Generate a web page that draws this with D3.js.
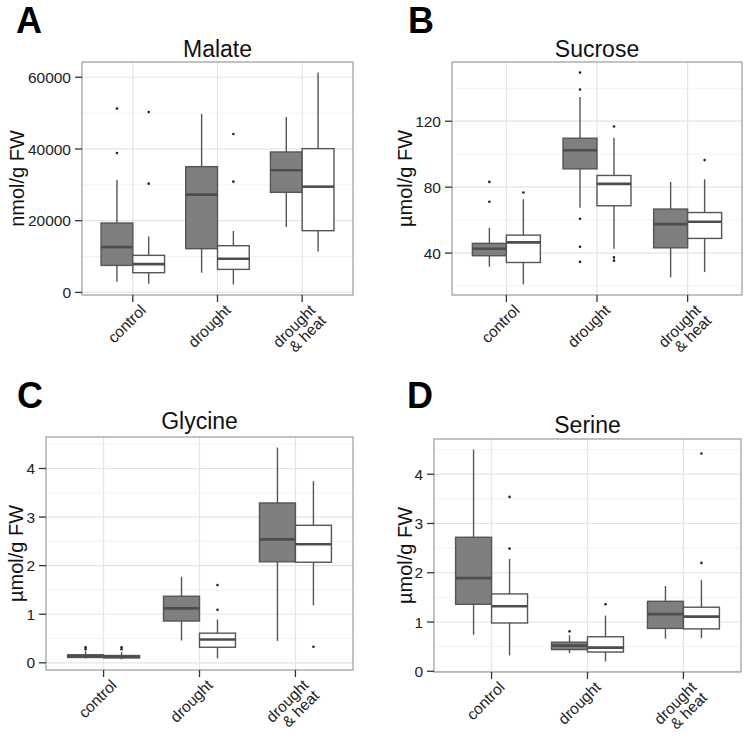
<!DOCTYPE html>
<html>
<head>
<meta charset="utf-8">
<script src="https://cdn.jsdelivr.net/npm/d3@7"></script>
<style>
  body { margin: 0; background: #fff; }
  text { font-family: "Liberation Sans", Arial, Helvetica, sans-serif; }
</style>
</head>
<body>
<div id="wrapper"></div>
<script>
// groups on the x axis
const groups = ["control", "drought", "drought & heat"];
const groupLines = [["control"], ["drought"], ["drought", "& heat"]];

// box stats: [lower whisker, Q1, median, Q3, upper whisker]
const malate_grey = [[2980, 7530, 12650, 19350, 31350], [5490, 12190, 27260, 35070, 49770], [18230, 27910, 34050, 39160, 48930]];
const malate_white = [[2420, 5490, 7900, 10330, 15630], [2230, 6420, 9400, 13020, 17120], [11440, 17210, 29490, 40090, 61300]];
const malate_grey_out = [[51260, 38880], [], []];
const malate_white_out = [[50330, 30330], [44190, 30880], []];
const malate_ticks = [0, 20000, 40000, 60000];

const sucrose_grey = [[31.7, 38.4, 42.6, 45.9, 55.4], [67.5, 91.1, 102.4, 109.7, 134.7], [25.3, 43.2, 57.6, 66.7, 83.2]];
const sucrose_white = [[21.0, 34.3, 46.5, 50.9, 72.7], [42.6, 68.7, 82.0, 87.1, 109.9], [28.5, 48.9, 59.0, 64.6, 84.8]];
const sucrose_grey_out = [[83.2, 71.1], [149.5, 139.2, 60.8, 43.8, 34.7], []];
const sucrose_white_out = [[76.8], [116.8, 37.4, 35.4], [96.4]];
const sucrose_ticks = [40, 80, 120];

const glycine_grey = [[0.09, 0.11, 0.137, 0.165, 0.24], [0.46, 0.86, 1.12, 1.37, 1.77], [0.45, 2.08, 2.54, 3.29, 4.43]];
const glycine_white = [[0.07, 0.10, 0.125, 0.15, 0.22], [0.09, 0.32, 0.48, 0.61, 0.89], [1.18, 2.07, 2.44, 2.83, 3.74]];
const glycine_grey_out = [[0.32, 0.28], [], []];
const glycine_white_out = [[0.32, 0.28], [1.60, 1.09], [0.33]];
const glycine_ticks = [0, 1, 2, 3, 4];

const serine_grey = [[0.74, 1.36, 1.89, 2.72, 4.50], [0.37, 0.44, 0.52, 0.59, 0.73], [0.66, 0.87, 1.16, 1.42, 1.73]];
const serine_white = [[0.32, 0.98, 1.32, 1.57, 2.28], [0.20, 0.39, 0.48, 0.70, 1.13], [0.67, 0.86, 1.11, 1.30, 1.85]];
const serine_grey_out = [[], [0.81], []];
const serine_white_out = [[3.54, 2.49], [1.36], [4.42, 2.20]];
const serine_ticks = [0, 1, 2, 3, 4];

const panels = [
    {letter: "A", title: "Malate", ylab: "nmol/g FW", grey: malate_grey, white: malate_white,
     greyOut: malate_grey_out, whiteOut: malate_white_out, ticks: malate_ticks,
     l: 82, r: 353, t: 62, b: 295, lx: 16, ly: 33, ty: 57, yx: 17},
    {letter: "B", title: "Sucrose", ylab: "µmol/g FW", grey: sucrose_grey, white: sucrose_white,
     greyOut: sucrose_grey_out, whiteOut: sucrose_white_out, ticks: sucrose_ticks,
     l: 452, r: 742, t: 62, b: 295, lx: 408, ly: 33, ty: 57, yx: 405},
    {letter: "C", title: "Glycine", ylab: "µmol/g FW", grey: glycine_grey, white: glycine_white,
     greyOut: glycine_grey_out, whiteOut: glycine_white_out, ticks: glycine_ticks,
     l: 46, r: 353, t: 437, b: 670, lx: 17, ly: 408, ty: 429, yx: 16},
    {letter: "D", title: "Serine", ylab: "µmol/g FW", grey: serine_grey, white: serine_white,
     greyOut: serine_grey_out, whiteOut: serine_white_out, ticks: serine_ticks,
     l: 434, r: 741, t: 439, b: 672, lx: 407, ly: 408, ty: 433, yx: 405}
];

const svg = d3.select("#wrapper")
    .append("svg")
    .attr("width", 748)
    .attr("height", 742);

panels.forEach(function(p) {
    // y domain like ggplot: data range plus 5% each side
    const all = [];
    [p.grey, p.white].forEach(s => s.forEach(d => all.push(d[0], d[4])));
    [p.greyOut, p.whiteOut].forEach(s => s.forEach(d => d.forEach(v => all.push(v))));
    const [lo, hi] = d3.extent(all);
    const pad = (hi - lo) * 0.05;

    const y = d3.scaleLinear()
        .domain([lo - pad, hi + pad])
        .range([p.b, p.t]);

    const x = d3.scalePoint()
        .domain(groups)
        .range([p.l, p.r])
        .padding(0.6);
    const step = x.step();
    const bw = step * 0.375;

    const g = svg.append("g");

    // panel background + grid
    g.append("rect")
        .attr("x", p.l).attr("y", p.t)
        .attr("width", p.r - p.l).attr("height", p.b - p.t)
        .attr("fill", "#fff");

    const tstep = p.ticks[1] - p.ticks[0];
    const minor = [];
    for (let i = -1; i < p.ticks.length; i++) {
        const v = p.ticks[0] + tstep * (i + 0.5);
        if (v > y.domain()[0] && v < y.domain()[1]) minor.push(v);
    }
    g.selectAll(".minor")
        .data(minor)
        .enter()
        .append("line")
        .attr("x1", p.l).attr("x2", p.r)
        .attr("y1", d => y(d)).attr("y2", d => y(d))
        .attr("stroke", "#f3f3f3")
        .attr("stroke-width", 1);
    g.selectAll(".major")
        .data(p.ticks)
        .enter()
        .append("line")
        .attr("x1", p.l).attr("x2", p.r)
        .attr("y1", d => y(d)).attr("y2", d => y(d))
        .attr("stroke", "#e4e4e4")
        .attr("stroke-width", 1.2);
    g.selectAll(".vmajor")
        .data(groups)
        .enter()
        .append("line")
        .attr("x1", d => x(d)).attr("x2", d => x(d))
        .attr("y1", p.t).attr("y2", p.b)
        .attr("stroke", "#e4e4e4")
        .attr("stroke-width", 1.2);

    // boxes
    const series = [
        {stats: p.grey, out: p.greyOut, fill: "#7f7f7f", off: -bw / 2},
        {stats: p.white, out: p.whiteOut, fill: "#ffffff", off: bw / 2}
    ];
    series.forEach(function(s) {
        s.stats.forEach(function(d, i) {
            const cx = x(groups[i]) + s.off;
            const bg = g.append("g");
            bg.append("line")
                .attr("x1", cx).attr("x2", cx)
                .attr("y1", y(d[0])).attr("y2", y(d[4]))
                .attr("stroke", "#555").attr("stroke-width", 1.4);
            bg.append("rect")
                .attr("x", cx - bw / 2).attr("width", bw)
                .attr("y", y(d[3])).attr("height", Math.max(y(d[1]) - y(d[3]), 0.5))
                .attr("fill", s.fill)
                .attr("stroke", "#555").attr("stroke-width", 1.4);
            bg.append("line")
                .attr("x1", cx - bw / 2).attr("x2", cx + bw / 2)
                .attr("y1", y(d[2])).attr("y2", y(d[2]))
                .attr("stroke", "#4d4d4d").attr("stroke-width", 2.6);
            bg.selectAll("circle")
                .data(s.out[i])
                .enter()
                .append("circle")
                .attr("cx", cx).attr("cy", v => y(v))
                .attr("r", 1.3)
                .attr("fill", "#222");
        });
    });

    // panel border
    g.append("rect")
        .attr("x", p.l).attr("y", p.t)
        .attr("width", p.r - p.l).attr("height", p.b - p.t)
        .attr("fill", "none")
        .attr("stroke", "#9a9a9a")
        .attr("stroke-width", 1.2);

    // y axis ticks
    g.selectAll(".ytick")
        .data(p.ticks)
        .enter()
        .append("line")
        .attr("x1", p.l - 7).attr("x2", p.l)
        .attr("y1", d => y(d)).attr("y2", d => y(d))
        .attr("stroke", "#333").attr("stroke-width", 1.3);
    g.selectAll(".ylab")
        .data(p.ticks)
        .enter()
        .append("text")
        .attr("x", p.l - 11)
        .attr("y", d => y(d))
        .attr("dy", "0.36em")
        .attr("text-anchor", "end")
        .attr("font-size", 15.5)
        .attr("fill", "#222")
        .text(d => d);

    // x axis ticks
    g.selectAll(".xtick")
        .data(groups)
        .enter()
        .append("line")
        .attr("x1", d => x(d)).attr("x2", d => x(d))
        .attr("y1", p.b).attr("y2", p.b + 7)
        .attr("stroke", "#333").attr("stroke-width", 1.3);
    groups.forEach(function(grp, i) {
        const t = g.append("text")
            .attr("transform", `translate(${x(grp) + 6},${p.b + 8}) rotate(-45)`)
            .attr("text-anchor", "end")
            .attr("font-size", 15.5)
            .attr("fill", "#222");
        groupLines[i].forEach(function(line, j) {
            t.append("tspan")
                .attr("x", 0)
                .attr("y", 0)
                .attr("dy", (0.75 + j * 0.95) + "em")
                .text(line);
        });
    });

    // title
    g.append("text")
        .attr("x", (p.l + p.r) / 2)
        .attr("y", p.ty)
        .attr("text-anchor", "middle")
        .attr("font-size", 23)
        .attr("fill", "#111")
        .text(p.title);

    // y label
    g.append("text")
        .attr("transform", `translate(${p.yx},${(p.t + p.b) / 2}) rotate(-90)`)
        .attr("text-anchor", "middle")
        .attr("dy", "0.36em")
        .attr("font-size", 20)
        .attr("fill", "#111")
        .text(p.ylab);

    // panel letter
    g.append("text")
        .attr("x", p.lx)
        .attr("y", p.ly)
        .attr("font-size", 36)
        .attr("font-weight", "bold")
        .attr("fill", "#000")
        .text(p.letter);
});
</script>
</body>
</html>
